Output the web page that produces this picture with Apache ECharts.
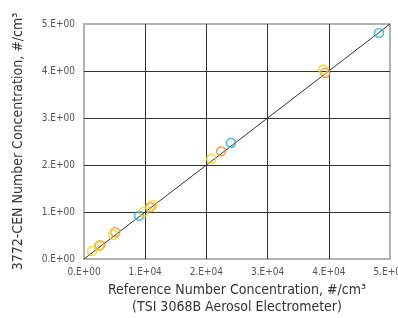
<!DOCTYPE html>
<html>
<head>
<meta charset="utf-8">
<script src="https://cdn.jsdelivr.net/npm/echarts@6/dist/echarts.min.js"></script>
<style>
  html, body { margin: 0; padding: 0; background: #fff; }
  #chart { width: 398px; height: 318px; }
</style>
</head>
<body>
<div id="chart"></div>
<script>
// reference concentration (x) vs 3772-CEN concentration (y)
var bluePoints = [[9000, 0.92], [24000, 2.47], [48200, 4.81]];
var orangePoints = [[2600, 0.29], [5100, 0.57], [10800, 1.10], [22400, 2.29], [39400, 3.96]];
var yellowPoints = [[1300, 0.17], [2400, 0.27], [4800, 0.51], [9700, 1.00], [11200, 1.15], [20800, 2.13], [39100, 4.03]];
var oneToOne = [[0, 0], [50000, 5]];

var xTicks = ['0.E+00', '1.E+04', '2.E+04', '3.E+04', '4.E+04', '5.E+04'];
var yTicks = ['0.E+00', '1.E+00', '2.E+00', '3.E+00', '4.E+00', '5.E+00'];

var font = '"DejaVu Sans Condensed", "Liberation Sans", sans-serif';

function circles(data, color) {
  return {
    type: 'scatter',
    data: data,
    symbol: 'circle',
    symbolSize: 9,
    itemStyle: { color: 'transparent', borderColor: color, borderWidth: 1.6 },
    z: 3
  };
}

var chart = echarts.init(document.getElementById('chart'));
chart.setOption({
  animation: false,
  grid: {
    left: 84, right: 8, top: 24, bottom: 59,
    outerBoundsMode: 'none', containLabel: false,
    show: true, borderColor: '#999', borderWidth: 1.5
  },
  xAxis: {
    type: 'value', min: 0, max: 50000, interval: 10000,
    name: 'Reference Number Concentration, #/cm³\n(TSI 3068B Aerosol Electrometer)',
    nameLocation: 'middle', nameGap: 19,
    nameTextStyle: { fontFamily: font, fontSize: 14, color: '#333', lineHeight: 17 },
    axisLine: { show: false },
    axisTick: { show: false },
    axisLabel: {
      fontFamily: font, fontSize: 10, color: '#555', margin: 8,
      formatter: function (v) { return xTicks[Math.round(v / 10000)]; }
    },
    splitLine: { show: true, showMinLine: false, showMaxLine: false, lineStyle: { color: '#333', width: 1 } }
  },
  yAxis: {
    type: 'value', min: 0, max: 5, interval: 1,
    name: '3772-CEN Number Concentration, #/cm³',
    nameLocation: 'middle', nameGap: 59,
    nameTextStyle: { fontFamily: font, fontSize: 14, color: '#333' },
    axisLine: { show: false },
    axisTick: { show: false },
    axisLabel: {
      fontFamily: font, fontSize: 10, color: '#555', margin: 9,
      formatter: function (v) { return yTicks[Math.round(v)]; }
    },
    splitLine: { show: true, showMinLine: false, showMaxLine: false, lineStyle: { color: '#333', width: 1 } }
  },
  series: [
    {
      type: 'line', data: oneToOne, symbol: 'none',
      lineStyle: { color: '#333', width: 1 }, z: 2
    },
    circles(bluePoints, '#2AAAE2'),
    circles(orangePoints, '#F08C3A'),
    circles(yellowPoints, '#F7D417')
  ]
});
</script>
</body>
</html>
